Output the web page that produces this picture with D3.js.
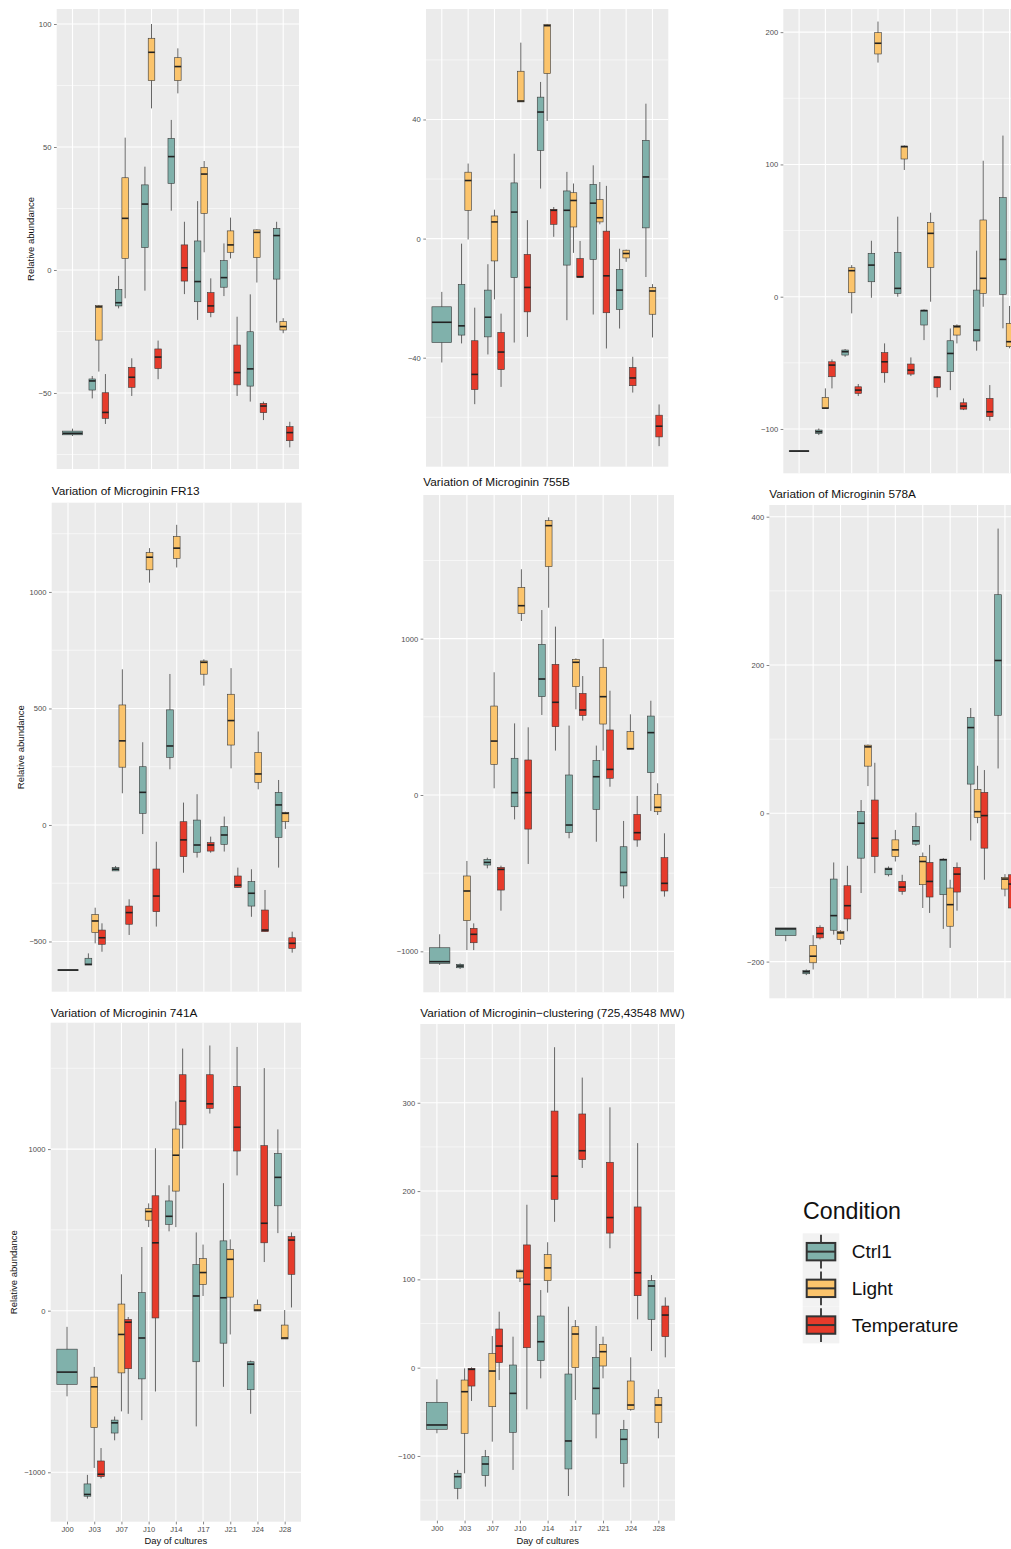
<!DOCTYPE html>
<html><head><meta charset="utf-8">
<script src="https://cdn.jsdelivr.net/npm/d3@7"></script>
<style>body{margin:0;background:#fff}svg{display:block}</style>
</head><body><svg id="chart" width="1011" height="1549"></svg>
<script>
const days = ["J00","J03","J07","J10","J14","J17","J21","J24","J28"];
const conditions = ["Ctrl1","Light","Temperature"];
const colors = ["#80B1AB","#FBC46C","#E63B2B"];
// each entry: [lower whisker, Q1, median, Q3, upper whisker]; null = no box
const p1_ctrl = [[-67.5,-67,-66.4,-65.5,-64.5],[-52.2,-48.8,-45.1,-44.3,-43.1],[-15.6,-14.6,-13.3,-7.9,-2.4],[-8.4,9.1,26.8,34.6,42],[24.1,35.2,46.1,53.5,61],[-20.3,-12.9,-4.7,11.8,28],[-10.6,-7,-3.1,3.8,10.8],[-53.5,-47.2,-40.2,-25.1,-9.9],[-21.4,-3.7,14,16.9,19.6]];
const p1_light = [null,[-41.3,-28.5,-15,-14.5,-14.2],[-11.5,4.7,21,37.5,53.8],[65.7,77,88.5,94.2,100],[71.8,77,82.7,86.3,90.1],[7.2,23,39,41.7,44.3],[4.7,7.2,10.2,15.9,21.3],[-5.1,5,15.3,16.3,16.5],[-25.7,-24.4,-23,-21,-19.6]];
const p1_temp = [null,[-62.6,-60.3,-57.9,-49.9,-42.3],[-51.2,-47.7,-43.6,-39.6,-35.9],[-44.4,-40.1,-35.4,-32.1,-28.7],[-9.8,-4.5,0.9,10.2,19.6],[-19.2,-17.3,-14.6,-9.2,-3.4],[-51.2,-46.7,-41.7,-30.5,-19],[-61,-58,-55.3,-54.2,-53.5],[-72.1,-69.4,-66.1,-63.7,-61.7]];

const p2_ctrl = [[-41.6,-34.9,-28.1,-22.9,-17.9],[-35.2,-32.4,-29.3,-15.4,-1.7],[-38.9,-33,-26.4,-17.3,-8.6],[-34.9,-13.1,8.9,18.7,28.5],[16.8,29.6,42.5,47.5,52.6],[-27.4,-8.9,9.5,16,22.4],[-25.5,-7,11.9,18.2,24.6],[-30.2,-23.8,-17.3,-10.4,-3.4],[-12.9,3.6,20.7,33,45.3]];
const p2_light = [null,[-0.3,9.5,19.5,22.3,25.2],[-20.4,-7.5,5.6,7.6,9.7],[45.9,45.9,46.2,56.2,65.8],[39.5,55.4,71.5,71.9,72.1],[-4.8,3.9,12.8,15.4,18.5],[4.8,5.6,7,13.1,19],[-7.8,-6.5,-5,-3.9,-3.7],[-33.2,-25.4,-17.6,-16.4,-15.3]];
const p2_temp = [null,[-55.6,-50.7,-45.6,-34.3,-23.2],[-49.8,-44,-38.1,-31.5,-25.2],[-33,-24.6,-16.4,-5.3,6.2],[0.6,4.8,9.5,9.8,10.6],[-13.1,-13.1,-12.8,-6.7,-0.8],[-36.9,-24.9,-12.5,2.5,17.7],[-51.7,-49.4,-46.8,-43.3,-39.7],[-69.7,-66.6,-63,-59.3,-55.7]];

const p3_ctrl = [[-117,-116.9,-116.7,-116.5,-116.4],[-104.6,-103.4,-102.1,-100.8,-99.6],[-45.4,-44.1,-41.6,-40.3,-39.6],[-0.8,11.3,23.9,32.8,42.3],[0,2.5,6.3,33.5,60.5],[-32.8,-21.4,-10.6,-10.1,-9.6],[-70.6,-56.7,-42.9,-33.3,-24],[-40.8,-33.5,-25.2,5,34.8],[-23.9,1.8,28.2,74.9,121.8]];
const p3_light = [null,[-84.6,-84.4,-84.2,-76.1,-69.3],[-12.6,3,19.7,21.9,23.9],[177,183.5,191.6,199.6,208],[95.8,104.1,113.4,113.9,114.4],[-3.8,22.2,47.9,56,63.5],[-35.3,-29,-22.7,-21.9,-20.9],[-7.6,2.5,13.9,58,102.8],[-39,-37.8,-34,-20.2,-7]];
const p3_temp = [null,[-69.3,-60.5,-51.7,-49.2,-47.4],[-75.1,-73.1,-70.6,-68.1,-66],[-65,-57.5,-49.2,-42.3,-35.3],[-60,-58.5,-55.5,-50.9,-45.9],[-76.1,-68.6,-61,-60.5,-60],[-85.7,-85,-82.7,-80.2,-76.9],[-93.8,-90.7,-87,-76.9,-66.8],null];

const fr13_ctrl = [[-624,-623.5,-622.6,-621.5,-621],[-601,-601,-598,-572,-551],[-197,-197,-190,-183,-176],[-39,50,140,250,355],[239,290,339,494,648],[-140,-117,-86,21,132],[-114,-83,-43,-7,36],[-394,-348,-293,-243,-190],[-183,-53,86,140,193]];
const fr13_light = [null,[-508,-462,-412,-384,-355],[136,248,361,515,668],[1040,1095,1149,1169,1188],[1105,1144,1188,1238,1288],[598,647,698,704,711],[243,343,448,561,673],[153,183,219,311,401],[-17,14,50,54,57]];
const fr13_temp = [null,[-544,-512,-484,-451,-422],[-472,-426,-376,-348,-319],[-436,-372,-305,-189,-72],[-205,-136,-64,14,96],[-119,-112,-86,-76,-50],[-268,-268,-258,-219,-183],[-458,-458,-451,-365,-279],[-548,-530,-508,-484,-458]];

const m755b_ctrl = [[-1087,-1077,-1066,-977,-891],[-1113,-1105,-1094,-1083,-1077],[-469,-448,-431,-412,-401],[-156,-75,15,235,458],[512,629,742,964,1183],[-277,-239,-192,128,444],[-299,-92,117,220,316],[-661,-582,-495,-331,-166],[-102,143,399,505,603]];
const m755b_light = [null,[-992,-804,-614,-518,-422],[43,196,345,569,785],[1113,1162,1211,1328,1444],[1198,1461,1723,1755,1776],[548,693,849,868,874],[284,454,629,817,998],[294,294,296,405,516],[-128,-107,-79,4,75]];
const m755b_temp = [null,[-992,-945,-891,-853,-821],[-740,-608,-476,-463,-452],[-441,-218,15,224,433],[284,437,593,836,1077],[476,508,544,650,761],[53,107,164,416,667],[-331,-288,-241,-124,-6],[-650,-614,-565,-401,-245]];

const m578a_ctrl = [[-172.5,-164.9,-155.9,-154.6,-154.6],[-218.2,-216.4,-213.7,-212,-210.6],[-163.6,-157.7,-138,-88.7,-66.3],[-107.5,-60.5,-13.4,2.2,17.9],[-85.1,-82.9,-75.3,-73.9,-71.7],[-43.9,-41.7,-37.2,-17.9,0.9],[-155.9,-109.8,-62.7,-61.8,-60.5],[-36.7,39.4,115.6,129,142],[60.5,132.2,206.1,294.8,384]];
const m578a_light = [null,[-210.6,-201.6,-192.7,-178.3,-164.4],[-177,-170.3,-161.3,-159.1,-157.7],[36.7,63.6,89.6,91.9,92.8],[-65,-58.3,-49.3,-35.8,-22.4],[-127.7,-96.3,-65,-58.3,-52.9],[-181.5,-152.3,-123.2,-100.8,-89.6],[-13.4,-5.8,2.2,32.3,64.1],[-112,-102.2,-88.7,-86.5,-82]];
const m578a_temp = [null,[-170,-168,-162.2,-153.7,-151],[-159.1,-142.5,-124.6,-97.7,-70.8],[-80.7,-58.3,-33.6,17.9,68.1],[-109.8,-105.3,-99.5,-91.9,-82.9],[-134.4,-112.9,-91.9,-66.3,-42.6],[-131.3,-106.2,-82,-73,-66.3],[-89.6,-47,-3.1,28.2,58.3],[-135,-127.7,-95.4,-82.9,-75]];

const m741a_ctrl = [[-530,-456,-380,-238,-100],[-1163,-1148,-1137,-1072,-1016],[-802,-757,-694,-677,-655],[-677,-422,-169,112,394],[491,534,584,679,776],[-716,-316,91,285,484],[-471,-201,80,432,789],[-638,-489,-331,-316,-309],[480,649,825,973,1122]];
const m741a_light = [null,[-973,-724,-471,-411,-348],[-623,-385,-147,41,225],[517,560,614,631,664],[517,740,962,1124,1295],[91,162,236,322,409],[-147,84,318,378,441],[-2,-2,4,37,69],[-175,-175,-169,-89,4]];
const m741a_temp = [null,[-1038,-1027,-1012,-930,-850],[-638,-359,-71,-54,-39],[-500,-45,420,711,1005],[1003,1150,1297,1460,1622],[1220,1252,1280,1460,1641],[837,988,1135,1388,1632],[301,420,541,1021,1501],[20,225,437,458,484]];

const clus_ctrl = [[-74.3,-69.8,-64.9,-39.2,-13.2],[-149,-136.6,-123.4,-119.6,-115.8],[-134.7,-122.3,-109.1,-100.8,-93.2],[-115.8,-73.2,-29.1,3,35.1],[-12.1,7.9,29.4,58.5,87.9],[-145.3,-114.7,-83,-7.2,69.1],[-80,-52.5,-23.4,11.7,47.2],[-135.5,-108.3,-81.1,-69.8,-59.2],[18.9,54.7,92.5,98.5,104.9]];
const clus_light = [null,[-119.6,-74.3,-27.2,-14,-0.8],[-83.8,-44.2,-3.8,16.2,35.8],[97,101.5,109,110.5,111],[85,98.5,113,128,142],[-36.6,0,38.1,46.4,54],[-12.1,1.9,18.1,26.4,35.1],[-48.7,-47.2,-42.3,-15.1,11.7],[-80,-62.3,-42.3,-34,-24.5]];
const clus_temp = [null,[-37.7,-20.8,-1.9,-0.8,0.4],[-14,5.7,24.5,43.8,63.4],[-47.2,22.6,94.4,139,184.5],[165.2,190.6,216.9,290.6,362.9],[226.2,235.6,245.7,287.3,328.5],[135.2,152.4,170,232.6,294.8],[54.7,81.5,107.5,182,254.3],[11.7,35.1,59.6,69.8,79.6]];

const titles = ["", "", "", "Variation of Microginin FR13", "Variation of Microginin 755B", "Variation of Microginin 578A", "Variation of Microginin 741A", "Variation of Microginin\u2212clustering (725,43548 MW)"];
const yTicks = [[-50,0,50,100],[-40,0,40],[-100,0,100,200],[-500,0,500,1000],[-1000,0,1000],[-200,0,200,400],[-1000,0,1000],[-100,0,100,200,300]];
const yLimits = [[-80.9,106.1],[-76.6,77.1],[-133.5,217.5],[-715.5,1383],[-1262,1919],[-249.5,415.8],[-1305.7,1782],[-173.3,389.2]];
const xTitle = "Day of cultures";
const yTitle = "Relative abundance";

// layout
const FONT = "'Liberation Sans', Arial, Helvetica, sans-serif";
const panels = [
  {s:[p1_ctrl,p1_light,p1_temp], r:[56.7,9,299,469], ylab:31},
  {s:[p2_ctrl,p2_light,p2_temp], r:[426,9,668.3,466.7]},
  {s:[p3_ctrl,p3_light,p3_temp], r:[783.3,9,1025.3,473.3]},
  {s:[fr13_ctrl,fr13_light,fr13_temp], r:[51.7,502.7,301.7,991.7], ylab:20.7, tb:495},
  {s:[m755b_ctrl,m755b_light,m755b_temp], r:[423.3,495,674,992.3], tb:486.3},
  {s:[m578a_ctrl,m578a_light,m578a_temp], r:[769.3,505,1021.4,998.3], tb:497.6},
  {s:[m741a_ctrl,m741a_light,m741a_temp], r:[50.7,1022.7,301,1521.7], ylab:14, tb:1016.5, xaxis:true},
  {s:[clus_ctrl,clus_light,clus_temp], r:[420.3,1024,675,1520.7], tb:1016.5, xaxis:true}
];

const svg = d3.select("#chart");
svg.append("rect").attr("width",1011).attr("height",1549).attr("fill","#fff");

// dodge slots: conditions measured on each day across all panels
const daySlots = days.map((d,i)=>conditions.map((c,k)=>k).filter(k=>panels.some(p=>p.s[k][i])));

panels.forEach((p,pi)=>{
  const [x0,y0,x1,y1] = p.r;
  const g = svg.append("g");
  const x = d3.scalePoint().domain(days).range([x0,x1]).padding(0.6);
  const y = d3.scaleLinear().domain(yLimits[pi]).range([y1,y0]);
  const step = x.step();
  g.append("rect").attr("x",x0).attr("y",y0).attr("width",x1-x0).attr("height",y1-y0).attr("fill","#EBEBEB");
  const ticks = yTicks[pi];
  const dt = ticks[1]-ticks[0];
  const [dmin,dmax] = yLimits[pi];
  const minors = [ticks[0]-dt/2].concat(ticks.map(t=>t+dt/2)).filter(v=>v>dmin && v<dmax);
  g.selectAll(".mn").data(minors).join("line")
    .attr("x1",x0).attr("x2",x1).attr("y1",d=>y(d)).attr("y2",d=>y(d))
    .attr("stroke","#fff").attr("stroke-width",0.55);
  g.selectAll(".mj").data(ticks).join("line")
    .attr("x1",x0).attr("x2",x1).attr("y1",d=>y(d)).attr("y2",d=>y(d))
    .attr("stroke","#fff").attr("stroke-width",1.1);
  g.selectAll(".vx").data(days).join("line")
    .attr("x1",d=>x(d)).attr("x2",d=>x(d)).attr("y1",y0).attr("y2",y1)
    .attr("stroke","#fff").attr("stroke-width",1.1);
  // y axis
  const ya = g.append("g").attr("transform",`translate(${x0},0)`)
    .call(d3.axisLeft(y).tickValues(ticks).tickSize(2.7).tickPadding(2.5).tickFormat(d3.format("d")));
  ya.select(".domain").remove();
  ya.selectAll(".tick line").attr("stroke","#333").attr("stroke-width",0.6);
  ya.selectAll(".tick text").attr("fill","#4D4D4D").style("font-family",FONT).style("font-size","7.6px");
  // boxes
  days.forEach((d,i)=>{
    const slots = daySlots[i];
    const n = slots.length;
    const bw = 0.75*step/n;
    slots.forEach((k,j)=>{
      const v = p.s[k][i];
      if(!v) return;
      const cx = x(d) + (j-(n-1)/2)*bw;
      const [lo,q1,med,q3,hi] = v;
      g.append("line").attr("x1",cx).attr("x2",cx).attr("y1",y(hi)).attr("y2",y(lo))
        .attr("stroke","#555").attr("stroke-width",0.9);
      g.append("rect").attr("x",cx-bw/2).attr("width",bw)
        .attr("y",y(q3)).attr("height",Math.max(0.6,y(q1)-y(q3)))
        .attr("fill",colors[k]).attr("stroke","#3a3a3a").attr("stroke-width",0.6);
      g.append("line").attr("x1",cx-bw/2).attr("x2",cx+bw/2).attr("y1",y(med)).attr("y2",y(med))
        .attr("stroke","#222").attr("stroke-width",1.6);
    });
  });
  if(titles[pi]){
    g.append("text").attr("x",x0).attr("y",p.tb).text(titles[pi])
      .style("font-family",FONT).style("font-size","11.8px").attr("fill","#111");
  }
  if(p.ylab!==undefined){
    g.append("text").attr("transform",`translate(${p.ylab+3.4},${(y0+y1)/2}) rotate(-90)`)
      .attr("text-anchor","middle").text(yTitle)
      .style("font-family",FONT).style("font-size","9.5px").attr("fill","#111");
  }
  if(p.xaxis){
    const xa = g.append("g").attr("transform",`translate(0,${y1})`)
      .call(d3.axisBottom(x).tickSize(2.7).tickPadding(2.2));
    xa.select(".domain").remove();
    xa.selectAll(".tick line").attr("stroke","#333").attr("stroke-width",0.6);
    xa.selectAll(".tick text").attr("fill","#4D4D4D").style("font-family",FONT).style("font-size","7.6px");
    g.append("text").attr("x",(x0+x1)/2).attr("y",1544.3).attr("text-anchor","middle").text(xTitle)
      .style("font-family",FONT).style("font-size","9.4px").attr("fill","#111");
  }
});

// legend
const lg = svg.append("g");
lg.append("text").attr("x",803).attr("y",1219).text("Condition")
  .style("font-family",FONT).style("font-size","23.2px").attr("fill","#111");
const keyH = 36.7, keyTop = 1233.3, keyX = 802.7, keyW = 36.6;
conditions.forEach((c,k)=>{
  const ty = keyTop + k*keyH;
  const cy = ty + keyH/2;
  lg.append("rect").attr("x",keyX).attr("y",ty).attr("width",keyW).attr("height",keyH).attr("fill","#F2F2F2");
  lg.append("line").attr("x1",keyX+keyW/2).attr("x2",keyX+keyW/2).attr("y1",ty+1.5).attr("y2",ty+keyH-1.5)
    .attr("stroke","#333").attr("stroke-width",1.8);
  lg.append("rect").attr("x",keyX+4).attr("y",cy-8.7).attr("width",keyW-8).attr("height",17.4)
    .attr("fill",colors[k]).attr("stroke","#333").attr("stroke-width",2);
  lg.append("line").attr("x1",keyX+4).attr("x2",keyX+keyW-4).attr("y1",cy).attr("y2",cy)
    .attr("stroke","#333").attr("stroke-width",2);
  lg.append("text").attr("x",851.7).attr("y",cy+6.8).text(c)
    .style("font-family",FONT).style("font-size","19px").attr("fill","#111");
});
</script>
</body></html>
